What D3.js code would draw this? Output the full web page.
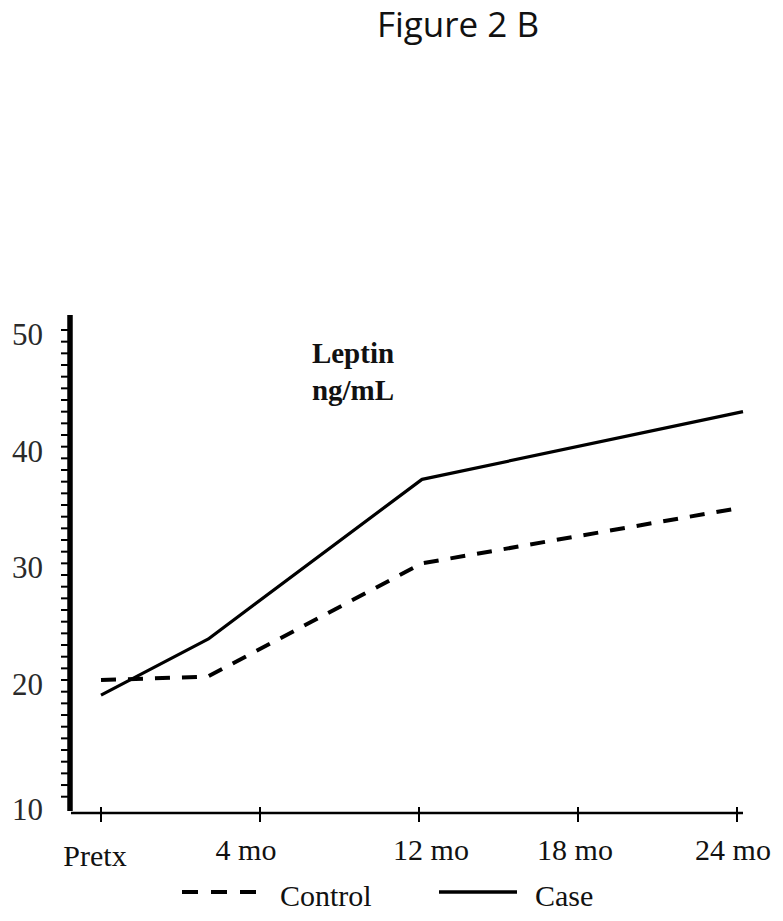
<!DOCTYPE html>
<html>
<head>
<meta charset="utf-8">
<script src="https://cdn.jsdelivr.net/npm/d3@7/dist/d3.min.js"></script>
<style>
  html, body { margin: 0; padding: 0; background: #fff; }
  svg { display: block; font-family: 'Liberation Serif', 'Times New Roman', serif; }
</style>
</head>
<body>
<svg id="chart" width="783" height="921"></svg>
<script>
// ---- data ----
const months = [0, 4, 12, 24];
const caseValues = [18.7, 23.5, 37.2, 43.0];
const controlValues = [20.0, 20.3, 30.0, 34.8];
const xTickLabels = ["Pretx", "4 mo", "12 mo", "18 mo", "24 mo"];
const yTickLabels = [10, 20, 30, 40, 50];
const yMinorTicks = d3.range(10, 51, 1);
const titleText = "Figure 2 B";
const unitLines = ["Leptin", "ng/mL"];
const legendItems = [
  { name: "Control", dashed: true },
  { name: "Case", dashed: false }
];

// ---- layout ----
const svg = d3.select("#chart");
const serif = "'Liberation Serif', 'Times New Roman', serif";

const x = d3.scaleLinear().domain([0, 24]).range([101, 743]);
const xTicks = d3.scalePoint().domain(xTickLabels).range([101, 737]);
const y = d3.scaleLinear().domain([10, 50]).range([796.7, 330]);

const axisX = 70;        // y-axis position
const axisY = 813;       // x-axis position

// Title
svg.append("text")
  .attr("x", 458).attr("y", 37)
  .attr("text-anchor", "middle")
  .style("font-family", "'Open Sans', 'Noto Sans', sans-serif")
  .attr("font-size", 35)
  .attr("fill", "#111")
  .text(titleText);

// Y axis: thick line + minor ticks
svg.append("line")
  .attr("x1", axisX).attr("x2", axisX)
  .attr("y1", 315).attr("y2", 811)
  .attr("stroke", "#000").attr("stroke-width", 5.5);

svg.append("g").selectAll("line")
  .data(yMinorTicks)
  .join("line")
  .attr("x1", 61).attr("x2", axisX)
  .attr("y1", d => y(d)).attr("y2", d => y(d))
  .attr("stroke", "#000").attr("stroke-width", 2);

svg.append("g").selectAll("text")
  .data(yTickLabels)
  .join("text")
  .attr("x", 43)
  .attr("y", d => d === yTickLabels[0] ? axisY - 4 : y(d) + 4)
  .attr("dy", "0.35em")
  .attr("text-anchor", "end")
  .style("font-family", serif)
  .attr("font-size", 31)
  .attr("fill", "#2a2a2a")
  .text(d => d);

// X axis
svg.append("line")
  .attr("x1", 71).attr("x2", 743)
  .attr("y1", axisY).attr("y2", axisY)
  .attr("stroke", "#000").attr("stroke-width", 2.5);

svg.append("g").selectAll("line")
  .data(xTickLabels)
  .join("line")
  .attr("x1", d => xTicks(d)).attr("x2", d => xTicks(d))
  .attr("y1", 807).attr("y2", 822)
  .attr("stroke", "#000").attr("stroke-width", 2);

const labelNudge = [-6, -14, 12, -3, -4];
const labelBase = [866, 860, 860, 860, 860];
svg.append("g").selectAll("text")
  .data(xTickLabels)
  .join("text")
  .attr("x", (d, i) => xTicks(d) + labelNudge[i])
  .attr("y", (d, i) => labelBase[i])
  .attr("text-anchor", "middle")
  .style("font-family", serif)
  .attr("font-size", 30)
  .attr("fill", "#111")
  .text(d => d);

// Unit label
svg.append("g").selectAll("text")
  .data(unitLines)
  .join("text")
  .attr("x", 353)
  .attr("y", (d, i) => 363 + i * 37)
  .attr("text-anchor", "middle")
  .style("font-family", serif)
  .attr("font-weight", "bold")
  .attr("font-size", 29)
  .attr("fill", "#111")
  .text(d => d);

// Lines
const line = d3.line()
  .x(d => x(d[0]))
  .y(d => y(d[1]));

svg.append("path")
  .datum(months.map((m, i) => [m, controlValues[i]]))
  .attr("d", line)
  .attr("fill", "none")
  .attr("stroke", "#000")
  .attr("stroke-width", 4)
  .attr("stroke-dasharray", "15,12");

svg.append("path")
  .datum(months.map((m, i) => [m, caseValues[i]]))
  .attr("d", line)
  .attr("fill", "none")
  .attr("stroke", "#000")
  .attr("stroke-width", 3.2)
  .attr("stroke-linejoin", "round");

// Legend
const legendPos = [
  { x1: 182, x2: 256, tx: 280 },
  { x1: 439, x2: 517, tx: 535 }
];
const lg = svg.append("g").selectAll("g")
  .data(legendItems)
  .join("g");
lg.append("line")
  .attr("x1", (d, i) => legendPos[i].x1)
  .attr("x2", (d, i) => legendPos[i].x2)
  .attr("y1", 892).attr("y2", 892)
  .attr("stroke", "#000")
  .attr("stroke-width", d => d.dashed ? 4 : 3.5)
  .attr("stroke-dasharray", d => d.dashed ? "16,13" : null);
lg.append("text")
  .attr("x", (d, i) => legendPos[i].tx)
  .attr("y", 906)
  .style("font-family", serif)
  .attr("font-size", 30)
  .attr("fill", "#111")
  .text(d => d.name);
</script>
</body>
</html>
